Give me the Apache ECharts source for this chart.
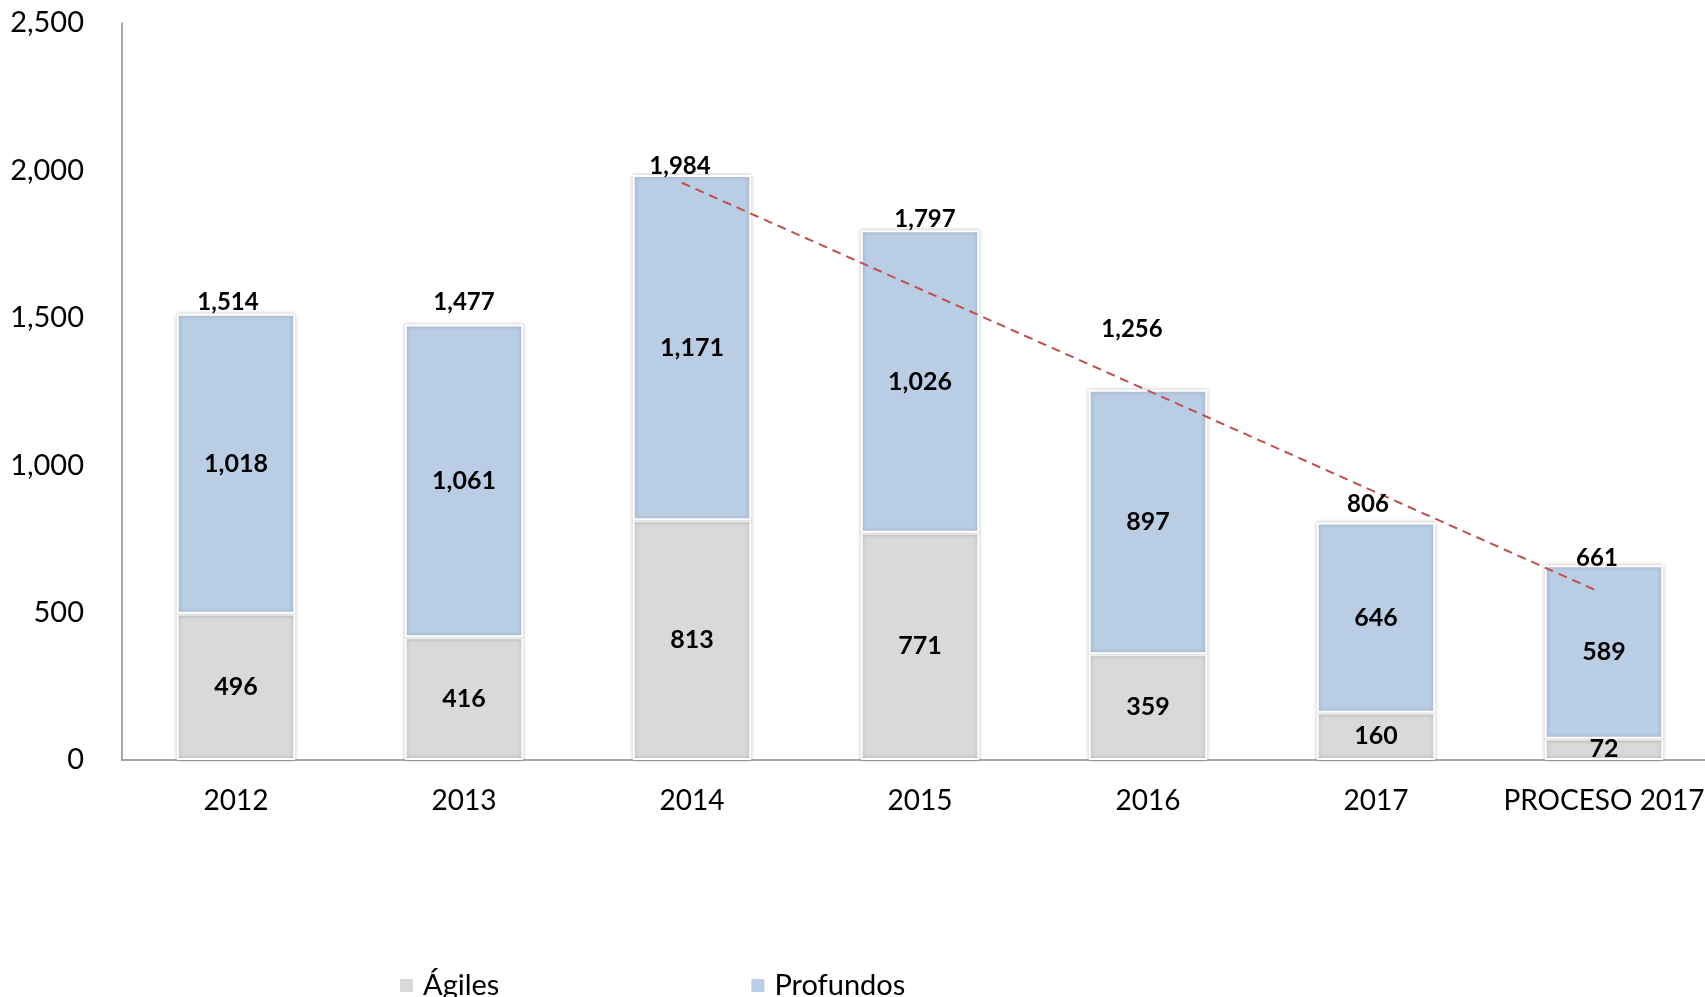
<!DOCTYPE html>
<html>
<head>
<meta charset="utf-8">
<script src="https://cdn.jsdelivr.net/npm/echarts@6/dist/echarts.min.js"></script>
<style>
  html, body { margin: 0; padding: 0; background: #fff; overflow: hidden; }
  #chart { width: 1720px; height: 997px; }
</style>
</head>
<body>
<div id="chart"></div>
<script>
// data
var categories = ['2012', '2013', '2014', '2015', '2016', '2017', 'PROCESO 2017'];
var agiles = [496, 416, 813, 771, 359, 160, 72];
var profundos = [1018, 1061, 1171, 1026, 897, 646, 589];
var totals = [1514, 1477, 1984, 1797, 1256, 806, 661];
// dashed trend line, ends estimated (x in category units, y in value)
var trendX = [1.955, 5.975];
var trendY = [1958, 572];

var FONT = 'Lato, "Liberation Sans", sans-serif';
var fmt = function (v) { return Number(v).toLocaleString('en-US'); };

// small nudges for the total labels, as in the original
var totalOffsets = [[-8, 3], [0, -8], [-12, 5], [5, 3], [-16, -46], [-8, -4], [-7, 7]];

var chart = echarts.init(document.getElementById('chart'));

var barStyle = function (color) {
  return {
    color: color,
    borderColor: '#ffffff',
    borderWidth: 2,
    shadowBlur: 4,
    shadowColor: 'rgba(0,0,0,0.22)'
  };
};

var boldText = {
  color: '#000',
  fontFamily: FONT,
  fontWeight: 'bold'
};

var innerLabel = Object.assign({
  show: true,
  position: 'inside',
  fontSize: 25,
  formatter: function (p) { return fmt(p.value); }
}, boldText);

chart.setOption({
  animation: false,
  backgroundColor: '#fff',
  grid: { left: 122, top: 23, width: 1596, height: 737 },
  legend: {
    data: ['Ágiles', 'Profundos'],
    left: 393,
    top: 966,
    itemWidth: 15,
    itemHeight: 15,
    itemGap: 250,
    icon: 'rect',
    textStyle: { fontFamily: FONT, fontSize: 29, color: '#000', padding: [0, 0, 0, 4] }
  },
  xAxis: [{
    type: 'category',
    data: categories,
    axisTick: { show: false },
    axisLine: { lineStyle: { color: '#8c8c8c', width: 1.5 } },
    axisLabel: { interval: 0, fontFamily: FONT, fontSize: 28, color: '#000', margin: 27 }
  }, {
    type: 'value',
    min: -0.5,
    max: 6.5,
    show: false
  }],
  yAxis: {
    type: 'value',
    min: 0,
    max: 2500,
    interval: 500,
    axisLine: { show: true, onZero: false, lineStyle: { color: '#8c8c8c', width: 1.5 } },
    axisTick: { show: false },
    splitLine: { show: false },
    axisLabel: { fontFamily: FONT, fontSize: 29, color: '#000', margin: 38, formatter: fmt }
  },
  series: [{
    name: 'Ágiles',
    type: 'bar',
    stack: 'tot',
    barWidth: '52%',
    data: agiles,
    itemStyle: barStyle('#d9d9d9'),
    label: innerLabel
  }, {
    name: 'Profundos',
    type: 'bar',
    stack: 'tot',
    barWidth: '52%',
    data: profundos,
    itemStyle: barStyle('#b9cde5'),
    label: innerLabel
  }, {
    name: 'Total',
    type: 'scatter',
    data: totals.map(function (v, i) {
      return {
        value: v,
        label: Object.assign({ offset: totalOffsets[i], fontSize: 24 }, boldText)
      };
    }),
    symbol: 'circle',
    symbolSize: 0.1,
    itemStyle: { color: '#ffffff', opacity: 1 },
    z: 5,
    label: Object.assign({
      show: true,
      position: 'top',
      distance: 2,
      fontSize: 24,
      formatter: function (p) { return fmt(p.value); }
    }, boldText)
  }, {
    name: 'Tendencia',
    type: 'line',
    xAxisIndex: 1,
    data: trendX.map(function (x, i) { return [x, trendY[i]]; }),
    symbol: 'none',
    z: 4,
    lineStyle: { color: '#c0504d', width: 2, type: [9, 6] }
  }]
});
</script>
</body>
</html>
